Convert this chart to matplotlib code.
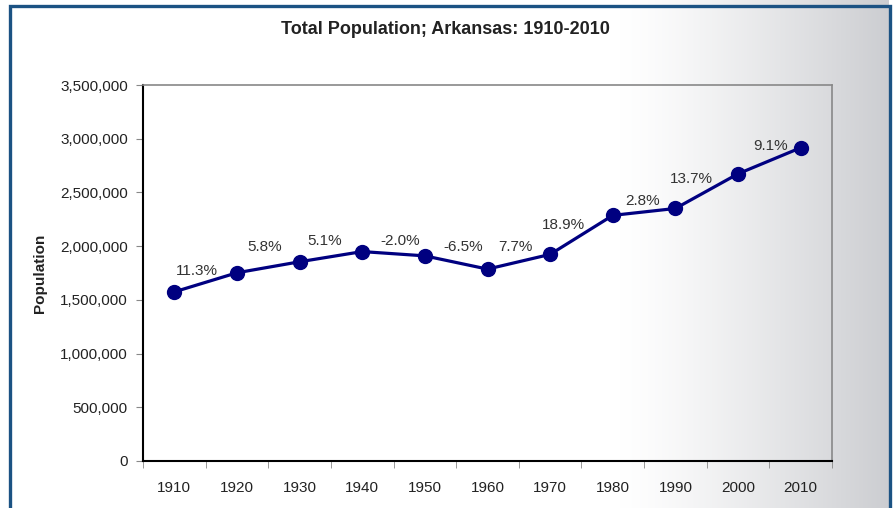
import numpy as np
import matplotlib
matplotlib.use('Agg')
import matplotlib.pyplot as plt
from matplotlib.patches import Rectangle
from matplotlib.ticker import FuncFormatter

plt.rcParams['font.family'] = ['Liberation Sans', 'DejaVu Sans']

years = ['1910', '1920', '1930', '1940', '1950', '1960', '1970', '1980',
         '1990', '2000', '2010']
population = [1574449, 1752204, 1854482, 1949387, 1909511, 1786272, 1923295,
              2286435, 2350725, 2673400, 2915918]
pct_labels = ['11.3%', '5.8%', '5.1%', '-2.0%', '-6.5%', '7.7%', '18.9%',
              '2.8%', '13.7%', '9.1%']

# label offsets (pixels) from the point each label belongs to (1920..2010)
label_offsets = [(-40, 2), (-35, 15), (-38, 11), (-25, 15), (-24, 22),
                 (-35, 7), (-49, -10), (-33, 7), (-47, -5), (-30, 2)]

W, H = 893, 508
fig = plt.figure(figsize=(W / 100, H / 100), dpi=100)

# background gradient (white to cool grey on the right)
bg = fig.add_axes([0, 0, 889 / W, 1], zorder=0)
xs = np.linspace(0, 889, 890)
t = np.clip((xs - 620) / (889 - 620), 0, 1) ** 1.25
end = np.array([0.80, 0.805, 0.82])
img = 1 - t[None, :, None] * (1 - end[None, None, :])
img = np.repeat(img, 4, axis=0)
bg.imshow(img, aspect='auto', extent=[0, 1, 0, 1])
bg.set_axis_off()

fig.patches.append(Rectangle((9.5 / W, -0.05), (889.5 - 9.5) / W,
                             1.05 - 5.5 / H, transform=fig.transFigure,
                             fill=False, edgecolor='#1b5283', linewidth=2.4,
                             zorder=5))

ax = fig.add_axes([143 / W, 1 - 461 / H, (832 - 143) / W, (461 - 85) / H],
                  zorder=1)
ax.patch.set_alpha(0)

x = np.arange(len(years))
ax.plot(x, population, color='#000080', linewidth=2.3, marker='o',
        markersize=10, zorder=3)

for i, (lab, (dx, dy)) in enumerate(zip(pct_labels, label_offsets)):
    ax.annotate(lab, (x[i + 1], population[i + 1]), xytext=(dx, dy),
                textcoords='offset pixels', ha='center', va='center',
                fontsize=11, color='#333333')

ax.set_xlim(-0.5, len(years) - 0.5)
ax.set_ylim(0, 3500000)
ax.set_yticks(np.arange(0, 3500001, 500000))
ax.yaxis.set_major_formatter(FuncFormatter(lambda v, p: '{:,.0f}'.format(v)))
ax.set_xticks(x)
ax.set_xticklabels(years)
ax.set_xticks(np.arange(-0.5, len(years)), minor=True)
ax.tick_params(axis='x', which='major', length=0, pad=14.5, labelsize=11,
               labelcolor='#222222')
ax.tick_params(axis='x', which='minor', length=5, color='#888888')
ax.tick_params(axis='y', length=5, color='#888888', pad=6, labelsize=11,
               labelcolor='#222222')

for side in ['top', 'right']:
    ax.spines[side].set_color('#888888')
    ax.spines[side].set_linewidth(1.2)
for side in ['left', 'bottom']:
    ax.spines[side].set_color('black')
    ax.spines[side].set_linewidth(1.5)

ax.set_ylabel('Population', fontsize=11, fontweight='bold',
              color='#222222')
ax.yaxis.set_label_coords(-(143 - 47) / (832 - 143), 0.5)

fig.text(445 / W, 1 - 29 / H, 'Total Population; Arkansas: 1910-2010',
         ha='center', va='center', fontsize=13, fontweight='bold',
         color='#222222')

fig.savefig('out.png', dpi=100)
